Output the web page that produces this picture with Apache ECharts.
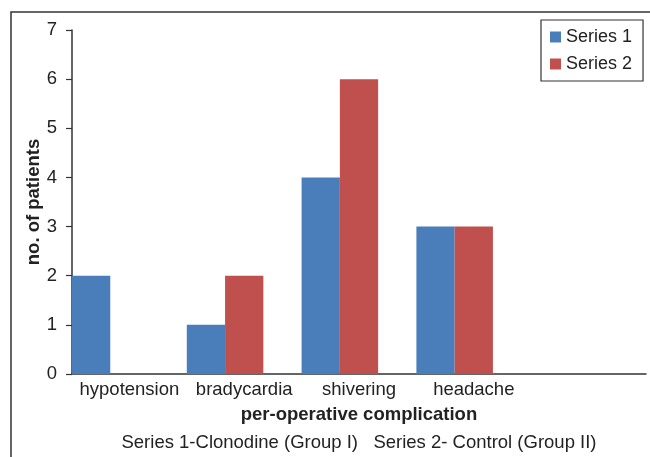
<!DOCTYPE html>
<html>
<head>
<meta charset="utf-8">
<script src="https://cdn.jsdelivr.net/npm/echarts@6/dist/echarts.min.js"></script>
<style>
  html, body { margin: 0; padding: 0; background: #fff; }
  #chart { width: 650px; height: 457px; }
</style>
</head>
<body>
<div id="chart"></div>
<script>
// complications (the 5th slot is empty in the original)
var categories = ['hypotension', 'bradycardia', 'shivering', 'headache', ''];
var series1 = [2, 1, 4, 3, null];
var series2 = [0, 2, 6, 3, null];
var series3 = [null, null, null, null, null]; // empty third slot, keeps bars left in each group
var yTicks = { min: 0, max: 7, interval: 1 };

var font = '"Liberation Sans", Arial, sans-serif';
var fs = 18.5;
var chart = echarts.init(document.getElementById('chart'));

chart.setOption({
  backgroundColor: '#fff',
  animation: false,
  textStyle: { fontFamily: font },
  title: {
    text: 'Series 1-Clonodine (Group I)   Series 2- Control (Group II)',
    left: 359,
    top: 433,
    textAlign: 'center',
    padding: 0,
    textStyle: { fontSize: fs, fontWeight: 'normal', color: '#222', fontFamily: font }
  },
  legend: {
    data: ['Series 1', 'Series 2'],
    orient: 'vertical',
    left: 541,
    top: 20,
    padding: [8, 11, 8, 9],
    itemGap: 9,
    itemWidth: 11,
    itemHeight: 11,
    itemTextGap: 6,
    icon: 'rect',
    borderColor: '#333',
    borderWidth: 1.2,
    textStyle: { fontSize: 18, color: '#222', fontFamily: font }
  },
  grid: { left: 72, right: 4, top: 30, bottom: 83 },
  xAxis: {
    type: 'category',
    data: categories,
    name: 'per-operative complication',
    nameLocation: 'middle',
    nameGap: 31,
    nameTextStyle: { fontSize: fs, fontWeight: 'bold', color: '#222', fontFamily: font },
    axisLine: { lineStyle: { color: '#333', width: 1.5 } },
    axisTick: { show: false },
    axisLabel: { fontSize: fs, color: '#222', margin: 6, interval: 0 }
  },
  yAxis: {
    type: 'value',
    min: yTicks.min,
    max: yTicks.max,
    interval: yTicks.interval,
    name: 'no. of patients',
    nameLocation: 'middle',
    nameGap: 29,
    nameMoveOverlap: false,
    nameRotate: 90,
    nameTextStyle: { fontSize: fs, fontWeight: 'bold', color: '#222', fontFamily: font },
    axisLine: { show: true, lineStyle: { color: '#333', width: 1.5 } },
    axisTick: { show: true, length: 6, lineStyle: { color: '#333', width: 1.2 } },
    axisLabel: { fontSize: fs, color: '#222', margin: 15 },
    splitLine: { show: false }
  },
  series: [
    {
      name: 'Series 1', type: 'bar', data: series1,
      barGap: '0%', barCategoryGap: '0%',
      itemStyle: { color: '#4A7EBB' }
    },
    {
      name: 'Series 2', type: 'bar', data: series2,
      itemStyle: { color: '#C0504D' }
    },
    {
      name: 'Series 3', type: 'bar', data: series3,
      itemStyle: { color: '#9BBB59' }
    }
  ],
  // outer frame (left and top edges only, as in the picture)
  graphic: [{
    type: 'polyline',
    shape: { points: [[11, 457], [11, 12], [650, 12]] },
    style: { stroke: '#333', lineWidth: 1.5, fill: null }
  }]
});
</script>
</body>
</html>
